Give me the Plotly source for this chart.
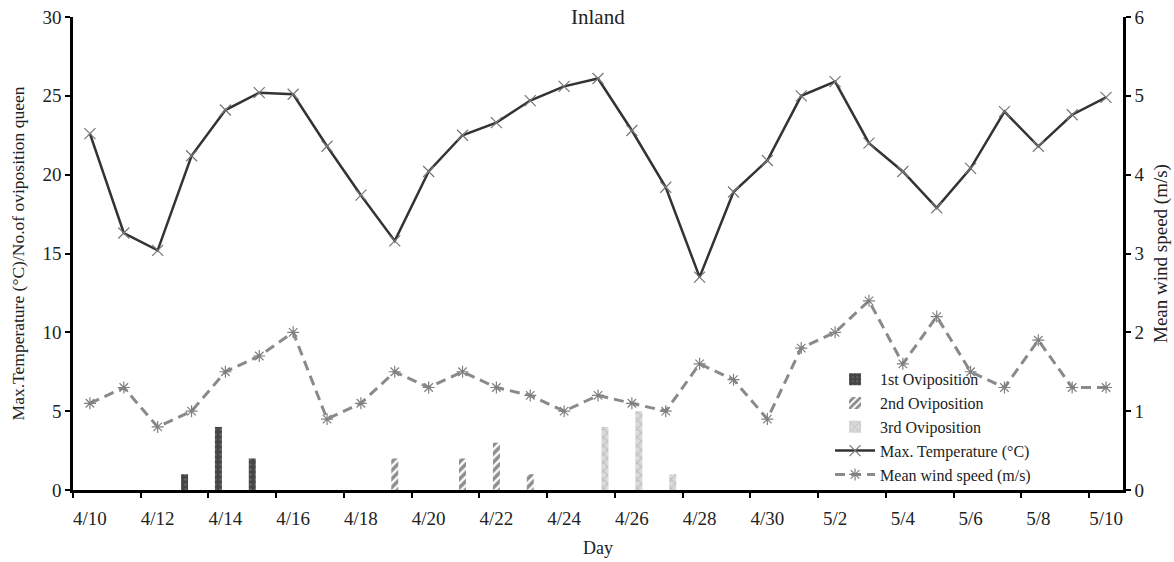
import plotly.graph_objects as go

days = ["4/10", "4/11", "4/12", "4/13", "4/14", "4/15", "4/16", "4/17", "4/18", "4/19",
        "4/20", "4/21", "4/22", "4/23", "4/24", "4/25", "4/26", "4/27", "4/28", "4/29",
        "4/30", "5/1", "5/2", "5/3", "5/4", "5/5", "5/6", "5/7", "5/8", "5/9", "5/10"]

max_temp = [22.6, 16.3, 15.2, 21.2, 24.1, 25.2, 25.1, 21.8, 18.7, 15.8,
            20.2, 22.5, 23.3, 24.7, 25.6, 26.1, 22.8, 19.2, 13.5, 18.9,
            20.9, 25.0, 25.9, 22.0, 20.2, 17.9, 20.4, 24.0, 21.8, 23.8, 24.9]

wind_speed = [1.1, 1.3, 0.8, 1.0, 1.5, 1.7, 2.0, 0.9, 1.1, 1.5,
              1.3, 1.5, 1.3, 1.2, 1.0, 1.2, 1.1, 1.0, 1.6, 1.4,
              0.9, 1.8, 2.0, 2.4, 1.6, 2.2, 1.5, 1.3, 1.9, 1.3, 1.3]

ovi_1st = [0, 0, 0, 1, 4, 2, 0, 0, 0, 0, 0, 0, 0, 0, 0, 0,
           0, 0, 0, 0, 0, 0, 0, 0, 0, 0, 0, 0, 0, 0, 0]
ovi_2nd = [0, 0, 0, 0, 0, 0, 0, 0, 0, 2, 0, 2, 3, 1, 0, 0,
           0, 0, 0, 0, 0, 0, 0, 0, 0, 0, 0, 0, 0, 0, 0]
ovi_3rd = [0, 0, 0, 0, 0, 0, 0, 0, 0, 0, 0, 0, 0, 0, 0, 4,
           5, 1, 0, 0, 0, 0, 0, 0, 0, 0, 0, 0, 0, 0, 0]

FONT = "Liberation Serif"

fig = go.Figure()

fig.add_trace(go.Bar(
    x=days, y=ovi_1st, name="1st Oviposition",
    marker=dict(color="#454545", line=dict(width=0),
                pattern=dict(shape=".", fgcolor="#8a8a8a", bgcolor="#454545", size=5, solidity=0.2)),
))
fig.add_trace(go.Bar(
    x=days, y=ovi_2nd, name="2nd Oviposition",
    marker=dict(color="#ffffff", line=dict(width=0),
                pattern=dict(shape="/", fgcolor="#1e1e1e", bgcolor="#ffffff", size=6, solidity=0.6)),
))
fig.add_trace(go.Bar(
    x=days, y=ovi_3rd, name="3rd Oviposition",
    marker=dict(color="#d0d0d0", line=dict(width=0),
                pattern=dict(shape="x", fgcolor="#a0a0a0", bgcolor="#dadada", size=6, solidity=0.3)),
))

fig.add_trace(go.Scatter(
    x=days, y=max_temp, name="Max. Temperature (°C)", mode="lines+markers",
    line=dict(color="#333333", width=2.5),
    marker=dict(symbol="x-thin-open", size=11, color="#777777", line=dict(width=1.2, color="#777777")),
))
fig.add_trace(go.Scatter(
    x=days, y=wind_speed, name="Mean wind speed (m/s)", mode="lines+markers", yaxis="y2",
    line=dict(color="#8a8a8a", width=3, dash="10px,6px"),
    marker=dict(symbol="asterisk-open", size=10, color="#808080", line=dict(width=1.2, color="#808080")),
))

axis_common = dict(
    showline=True, linecolor="black", linewidth=2.5,
    ticks="outside", ticklen=5, tickwidth=2, tickcolor="black",
    showgrid=False, zeroline=False, automargin=False,
    tickfont=dict(family=FONT, size=19, color="#222222"),
)

fig.update_layout(
    width=1174, height=562,
    margin=dict(l=73, r=51, t=17, b=72),
    paper_bgcolor="white", plot_bgcolor="white",
    font=dict(family=FONT, color="#222222"),
    barmode="group", bargap=0.38, bargroupgap=0,
    xaxis=dict(
        type="category", tickmode="linear", tick0=0, dtick=2,
        tickson="boundaries", range=[-0.5, 30.5], tickangle=0,
        ticklabelstandoff=9,
        title=dict(text="Day", font=dict(family=FONT, size=18), standoff=14),
        **axis_common,
    ),
    yaxis=dict(
        range=[0, 30], dtick=5,
        title=dict(text="Max.Temperature (°C)/No.of oviposition queen",
                   font=dict(family=FONT, size=17.5), standoff=14),
        **axis_common,
    ),
    yaxis2=dict(
        range=[0, 6], dtick=1, overlaying="y", side="right",
        title=dict(text="Mean wind speed (m/s)", font=dict(family=FONT, size=19), standoff=11),
        **axis_common,
    ),
    legend=dict(
        x=0.721, y=0.27, xanchor="left", yanchor="top",
        bgcolor="rgba(255,255,255,0)",
        font=dict(family=FONT, size=16, color="#222222"),
        itemwidth=40, traceorder="normal",
    ),
    showlegend=True,
)

fig.add_annotation(
    text="Inland", xref="paper", yref="paper", x=0.5, y=1.0,
    xanchor="center", yanchor="middle", showarrow=False,
    font=dict(family=FONT, size=21, color="#222222"),
)

fig.write_html("out.html")
